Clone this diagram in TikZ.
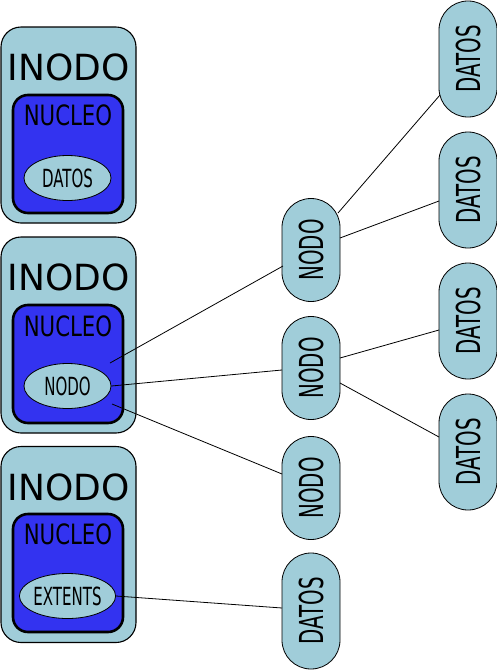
\documentclass[tikz,border=0pt]{standalone}
\usepackage{fontspec}
\setmainfont{DejaVu Sans}
\newfontfamily\condA{DejaVu Sans}[FakeStretch=0.6]
\newfontfamily\condB{DejaVu Sans}[FakeStretch=0.76]
\usetikzlibrary{calc,shapes.geometric}
\definecolor{lblue}{RGB}{160,205,217}
\definecolor{nblue}{RGB}{51,51,240}
\tikzset{
  inodobox/.style={draw=black,line width=1.1pt,fill=lblue,rounded corners=20pt,minimum width=135pt,minimum height=196pt,inner sep=0pt},
  nucleobox/.style={draw=black,line width=2.6pt,fill=nblue,rounded corners=15pt,minimum width=110pt,minimum height=118pt,inner sep=0pt},
  inell/.style={ellipse,draw=black,line width=0.8pt,fill=lblue,minimum width=87pt,minimum height=45pt,inner sep=0pt,font=\condA\fontsize{25}{28}\selectfont},
  inodotxt/.style={anchor=base,inner sep=0pt,font=\fontsize{36}{40}\selectfont},
  nucleotxt/.style={anchor=base,inner sep=0pt,font=\condB\fontsize{28}{32}\selectfont},
  capsule/.style={draw=black,line width=0.8pt,fill=lblue,rounded corners=28.9pt,minimum width=58pt,inner sep=0pt,font=\condA\fontsize{33}{36}\selectfont},
  nodocap/.style={capsule,minimum height=103pt},
  datoscap/.style={capsule,minimum height=116pt},
  link/.style={draw=black,line width=0.8pt}
}
\begin{document}
\begin{tikzpicture}[x=1pt,y=-1pt]
\useasboundingbox (0,0) rectangle (497,670);
% INODO 1
\node[inodobox] (in1) at (68.5,125) {};
\node[inodotxt] (in1t) at (68.5,80) {INODO};
\node[nucleobox] (nu1) at (68,154) {};
\node[nucleotxt] (nu1t) at (68,125) {NUCLEO};
\node[inell] (e1) at (67.5,178) {DATOS};
% INODO 2
\node[inodobox] (in2) at (68.5,335) {};
\node[inodotxt] (in2t) at (68.5,290) {INODO};
\node[nucleobox] (nu2) at (68,364) {};
\node[nucleotxt] (nu2t) at (68,336) {NUCLEO};
\node[inell] (e2) at (67.5,386) {NODO};
% INODO 3
\node[inodobox] (in3) at (68.5,544.5) {};
\node[inodotxt] (in3t) at (68.5,500) {INODO};
\node[nucleobox] (nu3) at (68,573) {};
\node[nucleotxt] (nu3t) at (68,544) {NUCLEO};
\node[inell] (e3) at (67.5,596) {EXTENTS};
% middle column
\node[nodocap] (n1) at (311,250) {\rotatebox{90}{NODO}};
\node[nodocap] (n2) at (311,368) {\rotatebox{90}{NODO}};
\node[nodocap] (n3) at (311,488) {\rotatebox{90}{NODO}};
\node[datoscap] (db) at (311,611) {\rotatebox{90}{DATOS}};
% right column
\node[datoscap] (d1) at (468,59) {\rotatebox{90}{DATOS}};
\node[datoscap] (d2) at (468,190) {\rotatebox{90}{DATOS}};
\node[datoscap] (d3) at (468,321) {\rotatebox{90}{DATOS}};
\node[datoscap] (d4) at (468,452) {\rotatebox{90}{DATOS}};
% free ends inside NUCLEO 2
\coordinate (c1) at (110,363);
\coordinate (c3) at (112,404);
% connectors
\draw[link] (c1) -- ($(n1.center)+(-28,16)$);
\draw[link] (e2.east) -- ($(n2.center)+(-29,2)$);
\draw[link] (c3) -- ($(n3.center)+(-29,-14)$);
\draw[link] (e3.east) -- ($(db.center)+(-29,-3)$);
\draw[link] ($(n1.center)+(27,-37)$) -- ($(d1.center)+(-28,36)$);
\draw[link] ($(n1.center)+(29,-12)$) -- ($(d2.center)+(-29,11)$);
\draw[link] ($(n2.center)+(29,-10)$) -- ($(d3.center)+(-29,9)$);
\draw[link] ($(n2.center)+(29,15)$) -- ($(d4.center)+(-29,-15)$);
\end{tikzpicture}
\end{document}
